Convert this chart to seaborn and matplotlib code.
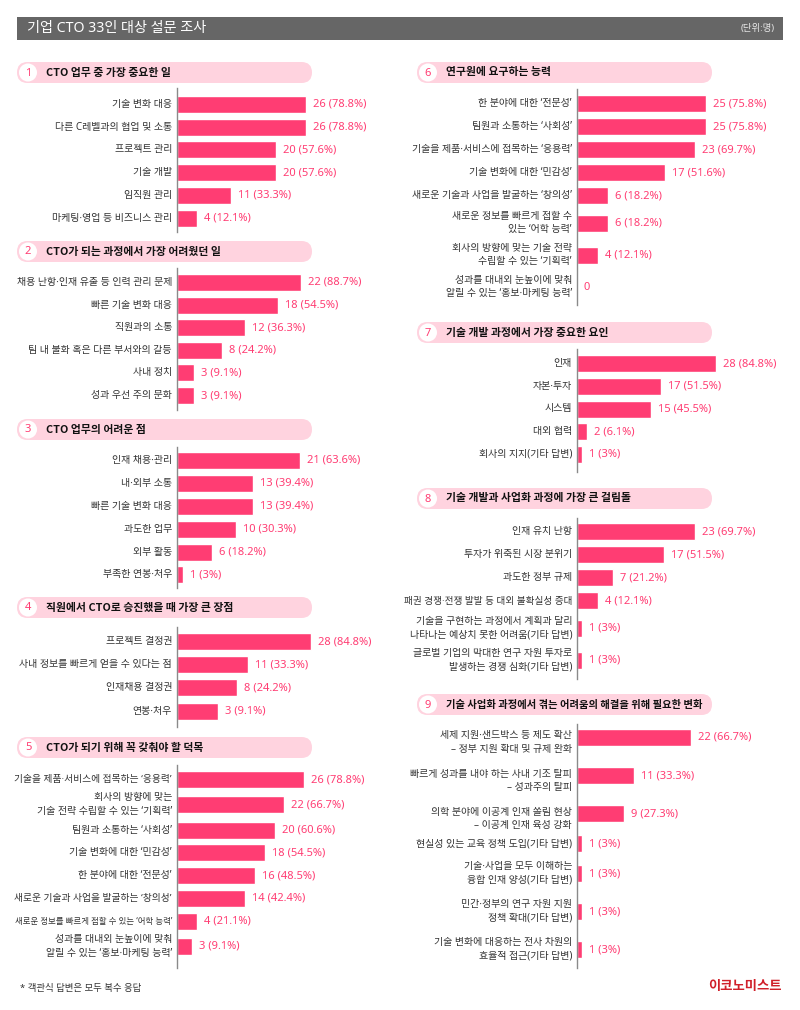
"""
기업 CTO 33인 대상 설문 조사 - 인포그래픽 재현
"""
import matplotlib
matplotlib.use('Agg')
import matplotlib.pyplot as plt
from matplotlib.patches import FancyBboxPatch, Circle, Rectangle
import seaborn as sns
import numpy as np
import pandas as pd

sns.set_style('white')
# 라틴 문자·가운뎃점은 Noto Sans, 한글은 Noto Sans CJK KR 로 대체
plt.rcParams['font.family'] = ['Noto Sans', 'Noto Sans CJK KR', 'DejaVu Sans']
BOLD_FAMILY = ['Noto Sans CJK KR', 'DejaVu Sans']

# ---------------- 데이터 ----------------
q1_title = 'CTO 업무 중 가장 중요한 일'
q1_labels = ['기술 변화 대응', '다른 C레벨과의 협업 및 소통', '프로젝트 관리', '기술 개발',
             '임직원 관리', '마케팅·영업 등 비즈니스 관리']
q1_counts = [26, 26, 20, 20, 11, 4]
q1_pcts = [78.8, 78.8, 57.6, 57.6, 33.3, 12.1]

q2_title = 'CTO가 되는 과정에서 가장 어려웠던 일'
q2_labels = ['채용 난항·인재 유출 등 인력 관리 문제', '빠른 기술 변화 대응', '직원과의 소통',
             '팀 내 불화 혹은 다른 부서와의 갈등', '사내 정치', '성과 우선 주의 문화']
q2_counts = [22, 18, 12, 8, 3, 3]
q2_pcts = [88.7, 54.5, 36.3, 24.2, 9.1, 9.1]

q3_title = 'CTO 업무의 어려운 점'
q3_labels = ['인재 채용·관리', '내·외부 소통', '빠른 기술 변화 대응', '과도한 업무',
             '외부 활동', '부족한 연봉·처우']
q3_counts = [21, 13, 13, 10, 6, 1]
q3_pcts = [63.6, 39.4, 39.4, 30.3, 18.2, 3]

q4_title = '직원에서 CTO로 승진했을 때 가장 큰 장점'
q4_labels = ['프로젝트 결정권', '사내 정보를 빠르게 얻을 수 있다는 점', '인재채용 결정권', '연봉·처우']
q4_counts = [28, 11, 8, 3]
q4_pcts = [84.8, 33.3, 24.2, 9.1]

q5_title = 'CTO가 되기 위해 꼭 갖춰야 할 덕목'
q5_labels = ['기술을 제품·서비스에 접목하는 \u2018응용력\u2019',
             '회사의 방향에 맞는\n기술 전략 수립할 수 있는 \u2018기획력\u2019',
             '팀원과 소통하는 \u2018사회성\u2019',
             '기술 변화에 대한 \u2018민감성\u2019',
             '한 분야에 대한 \u2018전문성\u2019',
             '새로운 기술과 사업을 발굴하는 \u2018창의성\u2019',
             '새로운 정보를 빠르게 접할 수 있는 \u2018어학 능력\u2019',
             '성과를 대내외 눈높이에 맞춰\n알릴 수 있는 \u2018홍보·마케팅 능력\u2019']
q5_counts = [26, 22, 20, 18, 16, 14, 4, 3]
q5_pcts = [78.8, 66.7, 60.6, 54.5, 48.5, 42.4, 21.1, 9.1]

q6_title = '연구원에 요구하는 능력'
q6_labels = ['한 분야에 대한 \u2018전문성\u2019',
             '팀원과 소통하는 \u2018사회성\u2019',
             '기술을 제품·서비스에 접목하는 \u2018응용력\u2019',
             '기술 변화에 대한 \u2018민감성\u2019',
             '새로운 기술과 사업을 발굴하는 \u2018창의성\u2019',
             '새로운 정보를 빠르게 접할 수\n있는 \u2018어학 능력\u2019',
             '회사의 방향에 맞는 기술 전략\n수립할 수 있는 \u2018기획력\u2019',
             '성과를 대내외 눈높이에 맞춰\n알릴 수 있는 \u2018홍보·마케팅 능력\u2019']
q6_counts = [25, 25, 23, 17, 6, 6, 4, 0]
q6_pcts = [75.8, 75.8, 69.7, 51.6, 18.2, 18.2, 12.1, 0]

q7_title = '기술 개발 과정에서 가장 중요한 요인'
q7_labels = ['인재', '자본·투자', '시스템', '대외 협력', '회사의 지지(기타 답변)']
q7_counts = [28, 17, 15, 2, 1]
q7_pcts = [84.8, 51.5, 45.5, 6.1, 3]

q8_title = '기술 개발과 사업화 과정에 가장 큰 걸림돌'
q8_labels = ['인재 유치 난항', '투자가 위축된 시장 분위기', '과도한 정부 규제',
             '패권 경쟁·전쟁 발발 등 대외 불확실성 증대',
             '기술을 구현하는 과정에서 계획과 달리\n나타나는 예상치 못한 어려움(기타 답변)',
             '글로벌 기업의 막대한 연구 자원 투자로\n발생하는 경쟁 심화(기타 답변)']
q8_counts = [23, 17, 7, 4, 1, 1]
q8_pcts = [69.7, 51.5, 21.2, 12.1, 3, 3]

q9_title = '기술 사업화 과정에서 겪는 어려움의 해결을 위해 필요한 변화'
q9_labels = ['세제 지원·샌드박스 등 제도 확산\n\u2013 정부 지원 확대 및 규제 완화',
             '빠르게 성과를 내야 하는 사내 기조 탈피\n\u2013 성과주의 탈피',
             '의학 분야에 이공계 인재 쏠림 현상\n\u2013 이공계 인재 육성 강화',
             '현실성 있는 교육 정책 도입(기타 답변)',
             '기술·사업을 모두 이해하는\n융합 인재 양성(기타 답변)',
             '민간·정부의 연구 자원 지원\n정책 확대(기타 답변)',
             '기술 변화에 대응하는 전사 차원의\n효율적 접근(기타 답변)']
q9_counts = [22, 11, 9, 1, 1, 1, 1]
q9_pcts = [66.7, 33.3, 27.3, 3, 3, 3, 3]

# ---------------- 스타일 / 레이아웃 (픽셀 단위) ----------------
W, H = 800, 1010
PINK = '#FF3D73'
PILL = '#FFD3DF'
TEXT = '#333333'
BAR_H = 17
PILL_W, PILL_H = 295, 21
LABEL_FS = 7.2

# (제목, 라벨, 값, 비율, 열, 헤더 y, 축 위, 축 아래, 첫 막대 중심, 1줄 행 높이, 2줄 행 높이, px/단위, 시작 오프셋)
panels = [
    (q1_title, q1_labels, q1_counts, q1_pcts, 0, 62, 88, 232, 104.5, 22.7, 28, 4.95, 0),
    (q2_title, q2_labels, q2_counts, q2_pcts, 0, 241, 268, 410, 282.5, 22.6, 28, 5.63, 0),
    (q3_title, q3_labels, q3_counts, q3_pcts, 0, 419, 447, 588, 460.5, 22.9, 28, 5.88, 0),
    (q4_title, q4_labels, q4_counts, q4_pcts, 0, 597, 627, 727, 641.5, 23.2, 28, 3.71, 8.1),
    (q5_title, q5_labels, q5_counts, q5_pcts, 0, 737, 765, 968, 779.5, 22.7, 28, 4.88, 0),
    (q6_title, q6_labels, q6_counts, q6_pcts, 1, 62, 89, 305, 103.5, 23, 32, 5.15, 0),
    (q7_title, q7_labels, q7_counts, q7_pcts, 1, 322, 349, 472, 363.5, 22.75, 28, 4.95, 0),
    (q8_title, q8_labels, q8_counts, q8_pcts, 1, 488, 518, 679, 532, 23, 32, 5.13, 0),
    (q9_title, q9_labels, q9_counts, q9_pcts, 1, 694, 724, 968, 737.5, 22, 38, 5.2, 0),
]
PILL_X = [17, 417]
AXIS_X = [177, 577]
AX_W = [218, 213]
LABEL_MIN_X = [16, 405]   # 라벨이 넘지 않을 왼쪽 한계


def row_centers(labels, first, h1, h2):
    """라벨 줄 수에 따라 행 중심 위치 계산"""
    hs = [h2 if '\n' in lab else h1 for lab in labels]
    centers = [first]
    for a, b in zip(hs[:-1], hs[1:]):
        centers.append(centers[-1] + (a + b) / 2)
    return centers


def value_text(c, p):
    return '0' if c == 0 else f'{c} ({p:g}%)'


fig = plt.figure(figsize=(W / 100, H / 100), dpi=100)
fig.patch.set_facecolor('white')

# 배경 장식용 축
bg = fig.add_axes([0, 0, 1, 1])
bg.set_xlim(0, W)
bg.set_ylim(H, 0)
bg.axis('off')
renderer = fig.canvas.get_renderer()

# 상단 타이틀 바
bg.add_patch(Rectangle((17, 17), 766, 23, color='#666666', lw=0))
bg.text(27, 28.5, '기업 CTO 33인 대상 설문 조사', color='white', fontsize=10.2,
        va='center', ha='left')
bg.text(775, 28.5, '(단위:명)', color='#e6e6e6', fontsize=6.8, va='center', ha='right')

for num, (title, labels, counts, pcts, col, hy, top, bot, first, h1, h2, scale, off) in enumerate(panels, 1):
    px = PILL_X[col]
    # 섹션 헤더 (알약 모양)
    bg.add_patch(FancyBboxPatch((px, hy), PILL_W, PILL_H,
                                boxstyle=f'round,pad=0,rounding_size={PILL_H / 2}',
                                fc=PILL, ec='none'))
    cy = hy + PILL_H / 2
    bg.add_patch(Circle((px + 11, cy), 9, color='white', lw=0))
    bg.text(px + 11, cy + 0.5, str(num), color=PINK, fontsize=8, ha='center', va='center')
    t = bg.text(px + 29, cy, title, color='#111111', fontsize=7.8, fontweight='bold',
                family=BOLD_FAMILY, ha='left', va='center')
    avail = PILL_W - 29 - 10
    tw = t.get_window_extent(renderer=renderer).width
    if tw > avail:
        t.set_fontsize(7.8 * avail / tw)

    # 막대 그래프
    centers = row_centers(labels, first, h1, h2)
    ax = fig.add_axes([AXIS_X[col] / W, 1 - bot / H, AX_W[col] / W, (bot - top) / H])
    df = pd.DataFrame({'count': counts, 'pos': centers})
    min_d = float(np.min(np.diff(centers)))
    sns.barplot(data=df, x='count', y='pos', orient='h', native_scale=True,
                width=BAR_H / min_d, color=PINK, saturation=1, errorbar=None, ax=ax)
    if off > 0:
        # 짧은 막대도 최소 길이를 갖도록 한 원본 디자인 재현
        fwd = lambda v, c=off: np.where(v < 1, v * (1 + c), v + c)
        inv = lambda u, c=off: np.where(u < 1 + c, u / (1 + c), u - c)
        ax.set_xscale('function', functions=(fwd, inv))
    ax.set_xlim(0, AX_W[col] / scale - off)
    ax.set_ylim(bot, top)
    ax.set_xticks([])
    ax.set_yticks([])
    ax.set_xlabel('')
    ax.set_ylabel('')
    ax.patch.set_alpha(0)
    for s in ['top', 'right', 'bottom']:
        ax.spines[s].set_visible(False)
    ax.spines['left'].set_color('#8a8a8a')
    ax.spines['left'].set_linewidth(1)

    for lab, c, p, yc in zip(labels, counts, pcts, centers):
        if '\n\u2013' in lab:
            # 두 번째 줄이 '–' 로 시작하면 첫 줄을 막대에 맞춤
            a = ax.annotate(lab, xy=(0, yc), xytext=(-5, 7), textcoords='offset pixels',
                            ha='right', va='top', fontsize=LABEL_FS, color=TEXT,
                            linespacing=1.35, annotation_clip=False)
        else:
            a = ax.annotate(lab, xy=(0, yc), xytext=(-5, 0), textcoords='offset pixels',
                            ha='right', va='center', fontsize=LABEL_FS, color=TEXT,
                            linespacing=1.35, annotation_clip=False)
        # 너무 긴 라벨은 글자 크기를 줄여 칸 안에 맞춤
        lw = a.get_window_extent(renderer=renderer).width
        room = AXIS_X[col] - 5 - LABEL_MIN_X[col]
        if lw > room:
            a.set_fontsize(LABEL_FS * room / lw)
        ax.annotate(value_text(c, p), xy=(c, yc), xytext=(7, 0), textcoords='offset pixels',
                    ha='left', va='center', fontsize=8, color=PINK, annotation_clip=False)

# 하단 주석 / 로고
bg.text(20, 988, '* 객관식 답변은 모두 복수 응답', fontsize=6.8, color=TEXT, va='center')
bg.text(782, 986, '이코노미스트', fontsize=9.6, fontweight='bold', color='#D0202A',
        family=BOLD_FAMILY, ha='right', va='center')

fig.savefig('out.png', dpi=100)
